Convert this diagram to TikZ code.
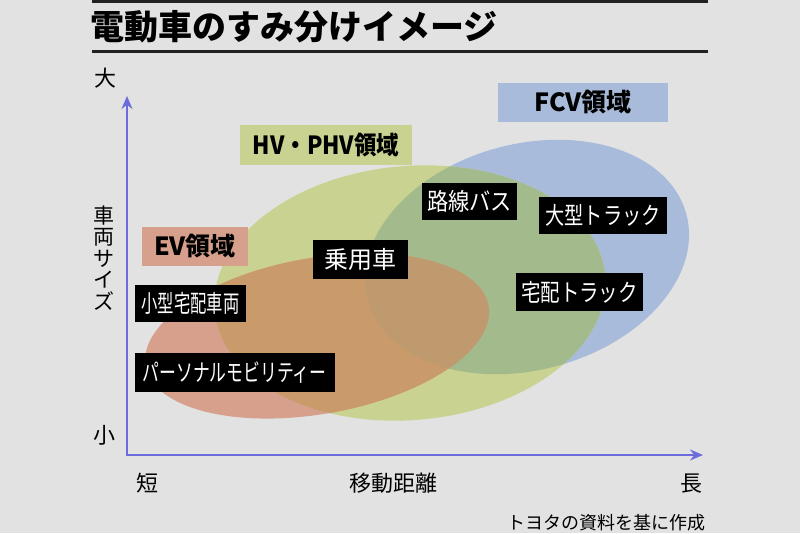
\documentclass[tikz,border=0pt]{standalone}
\usepackage{fontspec}
\setmainfont{Noto Sans CJK JP}
\usetikzlibrary{arrows.meta}
\definecolor{bgc}{HTML}{E2E2E2}
\definecolor{blueE}{HTML}{A8BBDA}
\definecolor{greenE}{HTML}{C9D290}
\definecolor{greenblue}{HTML}{A3BA8C}
\definecolor{redE}{HTML}{D6A08C}
\definecolor{redgreen}{HTML}{C99A6A}
\definecolor{redgreenblue}{HTML}{BE9A6E}
\definecolor{axisc}{HTML}{6B6BDB}
\definecolor{rulec}{HTML}{222222}
\newcommand{\sx}[2]{\scalebox{#1}[1]{#2}}
\def\EllB{(527,257) ellipse [x radius=165, y radius=113, rotate=15]}
\def\EllG{(410,293) ellipse [x radius=196, y radius=127, rotate=5]}
\def\EllR{(317,336) ellipse [x radius=174, y radius=78, rotate=10]}
\begin{document}
\begin{tikzpicture}[x=1pt,y=-1pt,
  lab/.style={fill=black,text=white,inner sep=0pt,font=\fontsize{24}{26}\selectfont},
  region/.style={inner sep=0pt,text=black,font=\bfseries\fontsize{25}{27}\selectfont},
  axlab/.style={inner sep=0pt,font=\fontsize{22}{24}\selectfont},
  axisline/.style={draw=axisc,line width=1.6pt},
  titlerule/.style={draw=rulec,line width=2.4pt}]
\useasboundingbox (0,0) rectangle (800,533);
\fill[bgc] (0,0) rectangle (800,533);
% title
\coordinate (t1) at (92,1.5); \coordinate (t2) at (708,1.5);
\coordinate (b1) at (92,51.5); \coordinate (b2) at (708,51.5);
\draw[titlerule] (t1) -- (t2);
\draw[titlerule] (b1) -- (b2);
\node[anchor=west,inner sep=0pt,font=\bfseries\fontsize{34}{36}\selectfont] (title) at (90,27) {電動車のすみ分けイメージ};
% ellipses
\fill[blueE] \EllB;
\fill[greenE] \EllG;
\begin{scope}
  \clip \EllB;
  \fill[greenblue] \EllG;
\end{scope}
\fill[redE] \EllR;
\begin{scope}
  \clip \EllG;
  \fill[redgreen] \EllR;
\end{scope}
\begin{scope}
  \clip \EllG;
  \clip \EllB;
  \fill[redgreenblue] \EllR;
\end{scope}
% axes
\coordinate (O) at (127,455);
\coordinate (ytip) at (127,96);
\coordinate (xtip) at (703,455);
\draw[axisline,{Stealth[length=13pt,width=11pt]}-{Stealth[length=13pt,width=11pt]}] (ytip) -- (O) -- (xtip);
\node[axlab] (big) at (105,78) {大};
\node[axlab] (small) at (104,435) {小};
\node[axlab] (short) at (147,483) {短};
\node[axlab] (dist) at (393,483) {移動距離};
\node[axlab] (long) at (691,484) {長};
\node[inner sep=0pt,align=center,font=\fontsize{21}{21.4}\selectfont] (size) at (104,258) {車\\両\\サ\\イ\\ズ};
\node[anchor=east,inner sep=0pt,font=\fontsize{18}{20}\selectfont] (note) at (706,523) {トヨタの資料を基に作成};
% region labels
\node[region,fill=blueE,minimum width=170,minimum height=39] (fcv) at (583,102.5) {FCV領域};
\node[region,fill=greenE,minimum width=172,minimum height=40] (hv) at (326,145) {\sx{0.9}{HV・PHV領域}};
\node[region,fill=redE,minimum width=106,minimum height=39] (ev) at (195,246.5) {EV領域};
% black labels
\node[lab,minimum width=111,minimum height=37] (kogata) at (190.5,303.5) {\sx{0.68}{小型宅配車両}};
\node[lab,minimum width=200,minimum height=39] (pm) at (234.5,372.5) {\sx{0.70}{パーソナルモビリティー}};
\node[lab,minimum width=95,minimum height=39] (jyo) at (360.5,259.5) {乗用車};
\node[lab,minimum width=95,minimum height=37] (bus) at (469.5,201.5) {\sx{0.885}{路線バス}};
\node[lab,minimum width=128,minimum height=37] (ogata) at (603,215.5) {\sx{0.8}{大型トラック}};
\node[lab,minimum width=127,minimum height=38] (takuhai) at (579.5,292) {\sx{0.81}{宅配トラック}};
\end{tikzpicture}
\end{document}
